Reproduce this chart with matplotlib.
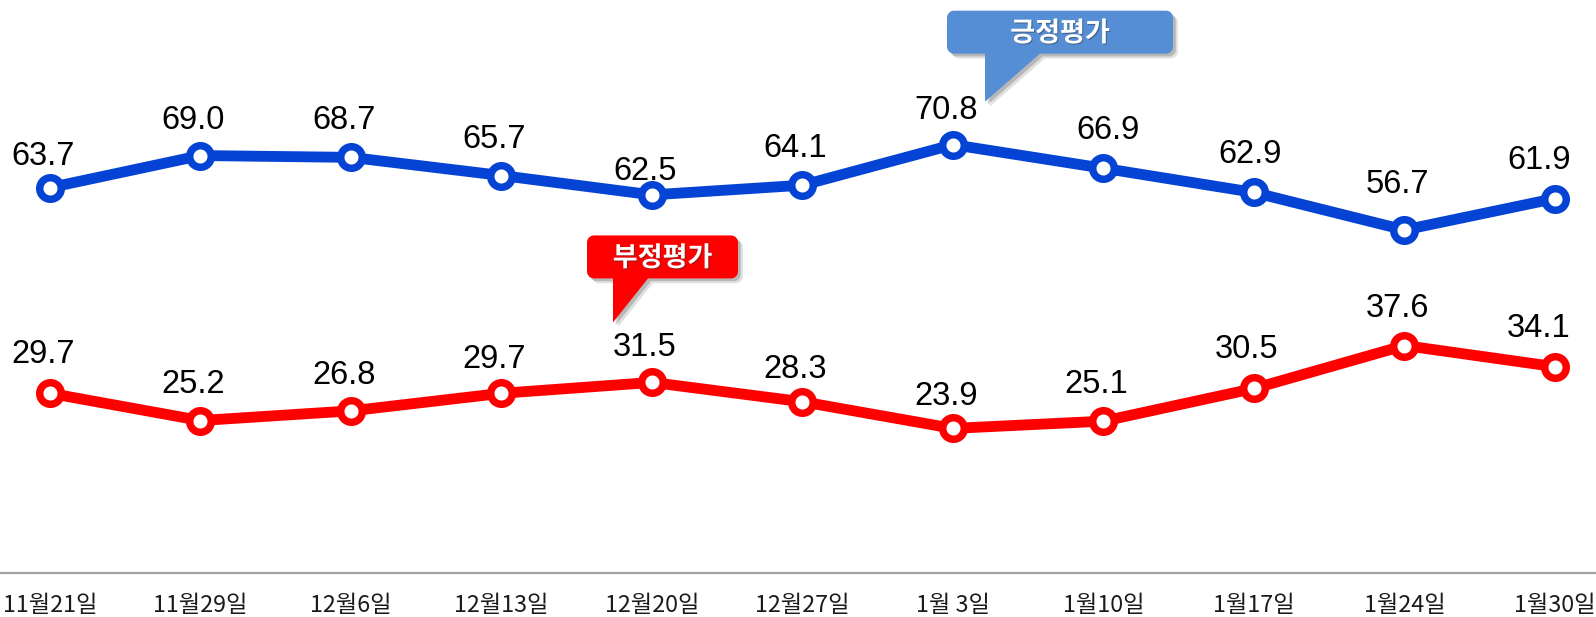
import numpy as np
import matplotlib
matplotlib.use("Agg")
import matplotlib.pyplot as plt
import matplotlib.patheffects as pe
import matplotlib.transforms as mtransforms
from matplotlib.path import Path
from matplotlib.patches import PathPatch

# data
dates = ["11월21일", "11월29일", "12월6일", "12월13일", "12월20일", "12월27일",
         "1월 3일", "1월10일", "1월17일", "1월24일", "1월30일"]
positive = [63.7, 69.0, 68.7, 65.7, 62.5, 64.1, 70.8, 66.9, 62.9, 56.7, 61.9]
negative = [29.7, 25.2, 26.8, 29.7, 31.5, 28.3, 23.9, 25.1, 30.5, 37.6, 34.1]

# label nudges in pixels (x, y) relative to the default spot above a point
pos_nudge = [(0, -5), (0, -1), (0, 0), (0, 0), (0, -13), (0, 0),
             (0, -2), (12, 1), (3, 1), (0, 9), (-9, 2)]
neg_nudge = [(0, 2), (0, 0), (0, -1), (0, -3), (0, -2), (0, -4),
             (0, -5), (0, 0), (0, 2), (0, 1), (-9, 2)]

BLUE = "#0543D5"
RED = "#FF0000"

plt.rcParams['font.family'] = ['Noto Sans CJK KR', 'DejaVu Sans']

fig = plt.figure(figsize=(15.96, 6.17), dpi=100)
ax = fig.add_axes([0, 44 / 617, 1, 573 / 617])
x = np.arange(len(dates))

ax.set_xlim(-50 / 150.5, 10 + 41 / 150.5)
ax.set_ylim(0, 573 / 6.05)

for vals, col in [(positive, BLUE), (negative, RED)]:
    ax.plot(x, vals, color=col, lw=7.8, marker="o", ms=15.5, mew=5.4,
            mfc="white", mec=col, solid_capstyle="round", zorder=3)


def value_labels(vals, nudges):
    for i, v in enumerate(vals):
        dx, dy = nudges[i]
        ax.annotate(f"{v:.1f}", (x[i], v),
                    xytext=((-7 + dx) * 0.72, (28 + dy) * 0.72),
                    textcoords="offset points", ha="center", va="baseline",
                    fontsize=23.5, family="Liberation Sans", color="black",
                    zorder=4)


value_labels(positive, pos_nudge)
value_labels(negative, neg_nudge)


def callout(i, yval, box, tail, color, text):
    # box = (left, right, bottom, top), tail = (base_left, base_right, tip_x, tip_y)
    # all in pixels relative to the data point
    l, r, b, t = box
    bl, br, tx, ty = tail
    rad = 7
    verts = [(l + rad, b), (bl, b), (tx, ty), (br, b), (r - rad, b)]

    def arc(cx, cy, a0, a1):
        return [(cx + rad * np.cos(a), cy + rad * np.sin(a))
                for a in np.linspace(a0, a1, 8)]

    verts += arc(r - rad, b + rad, -np.pi / 2, 0)
    verts += arc(r - rad, t - rad, 0, np.pi / 2)
    verts += arc(l + rad, t - rad, np.pi / 2, np.pi)
    verts += arc(l + rad, b + rad, np.pi, 1.5 * np.pi)
    verts.append(verts[0])
    codes = [Path.MOVETO] + [Path.LINETO] * (len(verts) - 2) + [Path.CLOSEPOLY]
    px, py = ax.transData.transform((x[i], yval))
    trans = mtransforms.Affine2D().translate(px, py)
    shadow = [pe.SimplePatchShadow(offset=(3.5, -3.5), shadow_rgbFace="black", alpha=0.12),
              pe.SimplePatchShadow(offset=(2, -2), shadow_rgbFace="black", alpha=0.18),
              pe.Normal()]
    patch = PathPatch(Path(verts, codes), facecolor=color, edgecolor="none",
                      transform=trans, zorder=5, path_effects=shadow)
    fig.add_artist(patch)
    tx_, ty_ = ((l + r) / 2 + px) / fig.bbox.width, ((b + t) / 2 + py - 1) / fig.bbox.height
    fig.text(tx_, ty_, text, ha="center", va="center", color="white",
             fontsize=19.5, fontweight="bold", zorder=6,
             path_effects=[pe.withSimplePatchShadow(offset=(0.8, -0.8),
                                                    shadow_rgbFace="#333333",
                                                    alpha=0.45)])


callout(6, positive[6], (-6, 220, 91, 134), (32, 87, 32, 43), "#558ED5", "긍정평가")
callout(4, negative[4], (-65, 86, 104, 147), (-39, -4, -39, 60), RED, "부정평가")

for side in ["top", "left", "right"]:
    ax.spines[side].set_visible(False)
ax.spines["bottom"].set_color("#A0A0A0")
ax.spines["bottom"].set_linewidth(1.6)
ax.set_yticks([])
ax.set_xticks(x)
ax.set_xticklabels(dates, fontsize=16.8, color="#1a1a1a")
ax.tick_params(axis="x", length=0, pad=15)

fig.savefig("out.png", dpi=100)
